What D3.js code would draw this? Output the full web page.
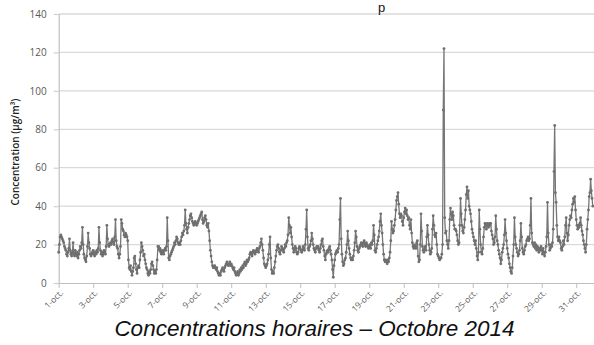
<!DOCTYPE html>
<html>
<head>
<meta charset="utf-8">
<script src="https://cdn.jsdelivr.net/npm/d3@7"></script>
<style>
  html, body { margin: 0; padding: 0; background: #fff; }
  svg { display: block; }
</style>
</head>
<body>
<svg id="chart" width="594" height="345"></svg>
<script>
// Hourly concentrations (µg/m³), October 2014, one row of 24 hours per day
const hourly = [
  16,20,24,25,24,23,22,21,19,18,17,15,14,16,18,23,17,15,14,16,21,15,14,17,   // 1
  15,14,16,13,15,17,19,18,21,29,20,15,13,12,11,14,19,26,21,18,15,14,15,16,   // 2
  17,15,14,16,15,17,16,18,29,21,17,15,16,14,15,17,16,15,19,30,23,20,19,20,   // 3
  21,20,22,23,21,20,24,33,22,19,18,15,13,15,19,33,31,28,27,25,24,26,25,24,   // 4
  22,12,8,7,9,6,4,6,8,13,14,10,7,5,8,9,8,12,16,21,19,17,14,15,               // 5
  12,10,8,7,5,4,6,5,7,10,11,9,7,5,6,5,7,12,19,19,17,18,16,15,                // 6
  17,16,15,17,18,17,19,34,22,13,12,14,15,16,17,18,19,21,20,22,24,23,21,20,   // 7
  21,20,22,24,26,25,27,30,38,31,28,26,29,31,33,35,36,34,32,31,30,31,32,31,   // 8
  30,31,32,33,34,35,36,37,33,31,32,34,35,33,30,29,31,27,22,17,14,11,9,8,     // 9
  8,9,8,7,8,6,5,4,5,4,6,7,8,7,6,8,9,10,11,10,9,10,11,9,                      // 10
  10,9,8,7,8,6,5,4,5,6,4,5,7,6,8,7,9,8,10,11,9,10,12,11,                     // 11
  12,13,15,16,15,14,16,17,16,15,16,17,18,17,16,18,19,21,23,20,17,13,10,9,    // 12
  8,9,10,12,15,20,24,13,7,5,6,5,8,11,14,17,19,20,18,16,15,17,19,18,          // 13
  17,16,18,20,19,21,22,25,34,30,26,29,24,20,18,16,17,19,18,16,15,16,18,19,   // 14
  18,17,16,17,19,18,17,20,28,38,24,18,17,19,20,22,26,23,20,18,17,16,18,19,   // 15
  18,19,17,16,18,20,22,23,19,17,14,12,15,16,17,16,18,19,17,15,12,7,3,9,      // 16
  12,15,16,17,16,18,20,33,44,23,15,11,9,10,12,13,16,20,27,22,18,15,13,12,    // 17
  13,12,14,17,21,27,24,19,17,16,18,19,20,21,20,19,21,22,20,19,21,20,19,18,   // 18
  19,20,18,21,20,22,30,25,17,16,18,20,22,24,27,32,36,30,26,20,15,12,11,12,   // 19
  11,10,12,11,13,16,22,32,28,26,27,30,33,38,43,45,47,41,36,34,36,35,32,30,   // 20
  34,37,39,36,38,35,33,34,30,28,33,26,21,19,18,20,19,18,21,22,14,11,12,20,   // 21
  36,27,19,17,16,18,19,17,24,30,25,20,17,15,16,18,28,35,30,25,24,26,20,15,   // 22
  14,13,12,13,13,15,20,90,122,34,26,27,22,20,18,22,33,39,36,33,37,35,30,28,  // 23
  28,27,25,22,20,21,30,44,36,30,27,26,29,33,38,46,50,44,48,40,38,36,32,28,   // 24
  26,24,22,20,22,18,14,12,16,38,28,20,16,15,18,24,29,31,30,28,31,30,29,31,   // 25
  30,31,27,25,23,20,21,24,35,28,22,20,17,15,13,10,12,16,18,20,25,33,26,22,   // 26
  18,15,13,10,8,6,5,8,14,20,34,24,20,18,16,14,15,17,22,31,24,18,16,15,       // 27
  17,19,20,22,23,24,22,23,30,44,26,21,20,19,21,18,20,17,19,18,16,18,17,19,   // 28
  17,15,18,16,14,16,19,24,42,26,20,17,18,20,19,21,28,58,82,47,42,30,24,22,   // 29
  24,22,21,18,17,19,22,20,24,30,34,26,22,25,30,33,35,34,38,41,44,42,45,38,   // 30
  33,30,28,30,29,31,34,30,27,25,22,20,18,16,20,28,33,38,45,47,54,48,44,40    // 31
];

// Axis labels
const dayLabels = ["1-oct.","3-oct.","5-oct.","7-oct.","9-oct.","11-oct.","13-oct.","15-oct.",
                   "17-oct.","19-oct.","21-oct.","23-oct.","25-oct.","27-oct.","29-oct.","31-oct."];
const yTicks = [0, 20, 40, 60, 80, 100, 120, 140];
const yTitle = "Concentration (µg/m³)";
const chartTitle = "Concentrations horaires – Octobre 2014";

const W = 594, H = 345;
const svg = d3.select("#chart");

const x = d3.scaleLinear().domain([0, hourly.length]).range([58.7, 593.5]);
const y = d3.scaleLinear().domain([0, 140]).range([283, 14]);

// Horizontal gridlines
svg.append("g")
  .selectAll("line")
  .data(yTicks.filter(v => v > 0))
  .join("line")
  .attr("x1", x(0)).attr("x2", W)
  .attr("y1", d => y(d)).attr("y2", d => y(d))
  .attr("stroke", "#d9d9d9").attr("stroke-width", 1.3);

// Y axis
const yAxis = svg.append("g")
  .attr("transform", `translate(${x(0)},0)`)
  .call(d3.axisLeft(y).tickValues(yTicks).tickSize(5).tickPadding(7).tickSizeOuter(0));
yAxis.select(".domain").attr("stroke", "#bfbfbf").attr("stroke-width", 1.2);
yAxis.selectAll(".tick line").attr("stroke", "#d0d0d0").attr("stroke-width", 1.2);
yAxis.selectAll(".tick text")
  .attr("fill", "#595959")
  .style("font-family", "'Open Sans', sans-serif")
  .style("font-size", "10px");

// X axis: one tick every two days
const tickHours = dayLabels.map((_, i) => i * 48);
const xAxis = svg.append("g")
  .attr("transform", `translate(0,${y(0)})`)
  .call(d3.axisBottom(x).tickValues(tickHours).tickSize(5).tickSizeOuter(0)
    .tickFormat((d, i) => dayLabels[i]));
xAxis.select(".domain").attr("stroke", "#bfbfbf").attr("stroke-width", 1.2);
xAxis.selectAll(".tick line").attr("stroke", "#bfbfbf").attr("stroke-width", 1);
xAxis.selectAll(".tick text")
  .attr("fill", "#595959")
  .attr("text-anchor", "end")
  .attr("dominant-baseline", "central")
  .attr("y", 0).attr("dy", 0)
  .attr("transform", "translate(2,8) rotate(-45)")
  .style("font-family", "'Open Sans', sans-serif")
  .style("font-size", "8.5px");

// Series line and markers
const line = d3.line()
  .x((d, i) => x(i))
  .y(d => y(d));

svg.append("path")
  .datum(hourly)
  .attr("d", line)
  .attr("fill", "none")
  .attr("stroke", "#767676")
  .attr("stroke-width", 1.3)
  .attr("stroke-linejoin", "round");

svg.append("g")
  .selectAll("circle")
  .data(hourly)
  .join("circle")
  .attr("cx", (d, i) => x(i))
  .attr("cy", d => y(d))
  .attr("r", 1.4)
  .attr("fill", "#6f6f6f");

// Y axis title
svg.append("text")
  .attr("transform", "translate(15,152) rotate(-90)")
  .attr("text-anchor", "middle")
  .attr("dominant-baseline", "central")
  .attr("fill", "#222")
  .style("font-family", "'Open Sans', sans-serif")
  .style("font-weight", "600")
  .style("font-size", "10px")
  .text(yTitle);

// Caption under the chart
svg.append("text")
  .attr("x", 314.5).attr("y", 336)
  .attr("text-anchor", "middle")
  .attr("fill", "#111")
  .style("font-family", "'Liberation Sans', Arial, sans-serif")
  .style("font-style", "italic")
  .style("font-size", "22.5px")
  .text(chartTitle);

// Letter of the heading above the plot
svg.append("text")
  .attr("x", 378).attr("y", 12)
  .attr("fill", "#111")
  .style("font-family", "'Liberation Sans', Arial, sans-serif")
  .style("font-size", "13px")
  .text("p");
</script>
</body>
</html>
